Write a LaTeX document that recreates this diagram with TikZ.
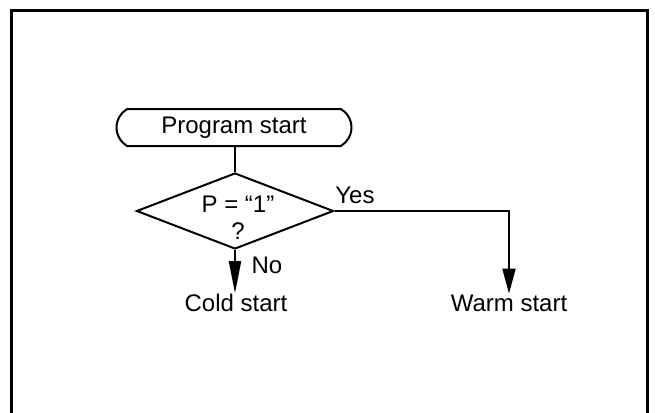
\documentclass[tikz,border=0pt]{standalone}
\usepackage{fontspec}
\setmainfont{Liberation Sans}
\usetikzlibrary{shapes.geometric,shapes.misc,arrows.meta}
\begin{document}
\begin{tikzpicture}[x=0.5pt,y=-0.5pt,
  line width=1pt,
  every node/.style={font=\fontsize{12}{13.5}\selectfont, inner sep=0pt},
  terminal/.style={draw, rounded rectangle, rounded rectangle arc length=120, minimum width=117.5pt, minimum height=18.5pt},
  decision/.style={draw, diamond, minimum width=98.5pt, minimum height=38pt},
  noarr/.style={-{Triangle[length=16pt,width=6pt]}},
  yesarr/.style={-{Triangle[length=12.5pt,width=6.5pt]}}
]
\useasboundingbox (0,0) rectangle (655,413);
\draw[line width=1.5pt] (11,413) -- (11,10) -- (647,10) -- (647,413);
\node[terminal] (start) at (234,127.5) {Program start};
\node[decision] (dec) at (235,211) {};
\node[align=center] (cond) at (238,218) {P = “1”\\?};
\draw (dec.north |- start.south) -- (dec.north);
\node (cold) at (236,303) {Cold start};
\node (warm) at (509,303) {Warm start};
\node (yes) at (355,195) {Yes};
\node (no) at (267,265) {No};
\draw[noarr] (dec.south) -- (dec.south |- cold.north);
\draw[yesarr] (dec.east) -| (warm.north);
\end{tikzpicture}
\end{document}
